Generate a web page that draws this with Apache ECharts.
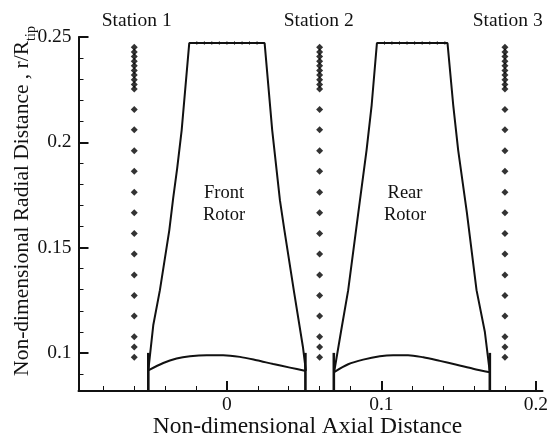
<!DOCTYPE html>
<html><head><meta charset="utf-8">
<style>html,body{margin:0;padding:0;background:#fff}#c{width:557px;height:438px}</style>
<script src="https://cdn.jsdelivr.net/npm/echarts@6/dist/echarts.min.js"></script>
</head><body><div id="c"></div>
<script>
const xMajorTicks=[0,0.1,0.2];
const xMinorTicks=[-0.08,-0.06,-0.04,-0.02,0.02,0.04,0.06,0.08,0.12,0.14,0.16,0.18];
const yMajorTicks=[0.1,0.15,0.2,0.25];
const yMinorTicks=[0.09,0.11,0.12,0.13,0.14,0.16,0.17,0.18,0.19,0.21,0.22,0.23,0.24];
const stationX=[-0.06,0.06,0.18];
const stationR=[0.2451,0.2429,0.2407,0.2385,0.2363,0.2341,0.2319,0.2297,0.2275,0.2253,0.2156,0.2059,0.196,0.1862,0.1763,0.1665,0.1567,0.1469,0.137,0.1272,0.1175,0.1077,0.1028,0.0979];
const frontOutline=[[-0.0509,0.0917],[-0.0477,0.1131],[-0.0434,0.1298],[-0.0373,0.1583],[-0.0348,0.1735],[-0.0322,0.1877],[-0.0293,0.2058],[-0.0244,0.2471],[0.0244,0.2471],[0.0293,0.2058],[0.0343,0.1725],[0.0372,0.1583],[0.0436,0.1283],[0.0492,0.1028],[0.0511,0.0914]];
const frontHub=[[-0.0509,0.0917],[-0.0412,0.0952],[-0.0326,0.0973],[-0.0239,0.0984],[-0.0131,0.0989],[-0.0024,0.0989],[0.0084,0.0981],[0.0192,0.0965],[0.03,0.0947],[0.0408,0.093],[0.0511,0.0914]];
const rearOutline=[[0.0694,0.0909],[0.0738,0.1099],[0.0785,0.1298],[0.0851,0.1668],[0.0904,0.1963],[0.0937,0.2177],[0.0971,0.2471],[0.1428,0.2471],[0.1465,0.2177],[0.1497,0.1963],[0.1553,0.1668],[0.1616,0.1298],[0.167,0.1099],[0.1702,0.0908]];
const rearHub=[[0.0694,0.0909],[0.0785,0.0946],[0.0882,0.0968],[0.099,0.0984],[0.1076,0.0989],[0.1173,0.0989],[0.1271,0.0979],[0.1379,0.0962],[0.1487,0.0944],[0.1594,0.0925],[0.1702,0.0908]];
const bladeEdgesX=[-0.0509,0.0508,0.0692,0.1702];
const frontTopMarks=[-0.0195,-0.0146,-0.0098,-0.0049,0,0.0049,0.0098,0.0146,0.0195];
const rearTopMarks=[0.102,0.1068,0.1117,0.1166,0.1215,0.1264,0.1313,0.1362,0.1411];
const topR=0.2471, barTopR=0.1, xMin=-0.0961, xMax=0.2043, yMin=0.0819, yMax=0.25;
const stationLabels=[['Station 1',136.7,20.5],['Station 2',318.7,20.5],['Station 3',507.7,20.5]];
const rotorLabels=[['Front\nRotor',224,204],['Rear\nRotor',405,204]];

const font='"Liberation Serif","Times New Roman",serif', ink='#111';
const lineSeries=(data,w,sm)=>({type:'line',data,symbol:'none',silent:true,clip:false,animation:false,smooth:sm||false,lineStyle:{color:ink,width:w}});
const pts=[];stationX.forEach(x=>stationR.forEach(r=>pts.push([x,r])));
const marks=frontTopMarks.concat(rearTopMarks).map(x=>[x,topR]);
const series=[
 lineSeries(frontOutline,2),lineSeries(frontHub,2,0.3),lineSeries(rearOutline,2),lineSeries(rearHub,2,0.3),
 ...bladeEdgesX.map(x=>lineSeries([[x,yMin],[x,barTopR]],2.6)),
 {type:'scatter',data:pts,symbol:'diamond',symbolSize:7,itemStyle:{color:'#000'},animation:false,silent:true},
 {type:'scatter',data:marks,symbol:'rect',symbolSize:[1,4],itemStyle:{color:'#555'},animation:false,silent:true}
];
const ax=(extra)=>Object.assign({splitLine:{show:false},minorTick:{show:false}},extra);
const graphic=[];
stationLabels.forEach(([t,x,y])=>graphic.push({type:'text',x,y,style:{text:t,font:'19.5px '+font,fill:ink,align:'center',verticalAlign:'middle'}}));
rotorLabels.forEach(([t,x,y])=>graphic.push({type:'text',x,y,style:{text:t,font:'18.5px '+font,fill:ink,align:'center',verticalAlign:'middle',lineHeight:22}}));
const chart=echarts.init(document.getElementById('c'),null,{renderer:'canvas'});
chart.setOption({
 animation:false,backgroundColor:'#fff',
 grid:{left:78.5,top:37,width:464,height:354,containLabel:false,outerBoundsMode:'none'},
 xAxis:[
  ax({type:'value',min:xMin,max:xMax,position:'bottom',name:'Non-dimensional Axial Distance',nameLocation:'middle',nameGap:24,nameMoveOverlap:false,
   nameTextStyle:{fontFamily:font,fontSize:23.5,color:ink,padding:[0,6,0,0]},
   axisLine:{onZero:false,lineStyle:{color:ink,width:2}},
   axisTick:{show:true,inside:true,length:10,lineStyle:{color:ink,width:2},customValues:xMajorTicks},
   axisLabel:{show:true,fontFamily:font,fontSize:19.5,color:ink,margin:4,customValues:xMajorTicks,showMinLabel:true,showMaxLabel:true,hideOverlap:false}}),
  ax({type:'value',min:xMin,max:xMax,position:'bottom',
   axisLine:{show:false,onZero:false},
   axisTick:{show:true,inside:true,length:5,lineStyle:{color:ink,width:1},customValues:xMinorTicks},
   axisLabel:{show:false}})
 ],
 yAxis:[
  ax({type:'value',min:yMin,max:yMax,position:'left',
   name:'{m|Non-dimensional Radial Distance , r/R}{s|tip}',nameLocation:'middle',nameGap:40,nameRotate:90,nameMoveOverlap:false,
   nameTextStyle:{padding:[0,0,0,26],rich:{m:{fontFamily:font,fontSize:21.5,color:ink,lineHeight:24,padding:[0,0,8,0]},s:{fontFamily:font,fontSize:14,color:ink,verticalAlign:'bottom',lineHeight:16}}},
   axisLine:{onZero:false,lineStyle:{color:ink,width:2}},
   axisTick:{show:true,inside:true,length:10,lineStyle:{color:ink,width:2},customValues:yMajorTicks},
   axisLabel:{show:true,fontFamily:font,fontSize:19.5,color:ink,margin:7,customValues:yMajorTicks,showMinLabel:true,showMaxLabel:true,hideOverlap:false}}),
  ax({type:'value',min:yMin,max:yMax,position:'left',
   axisLine:{show:false,onZero:false},
   axisTick:{show:true,inside:true,length:5,lineStyle:{color:ink,width:1},customValues:yMinorTicks},
   axisLabel:{show:false}})
 ],
 series,graphic
});
</script></body></html>
